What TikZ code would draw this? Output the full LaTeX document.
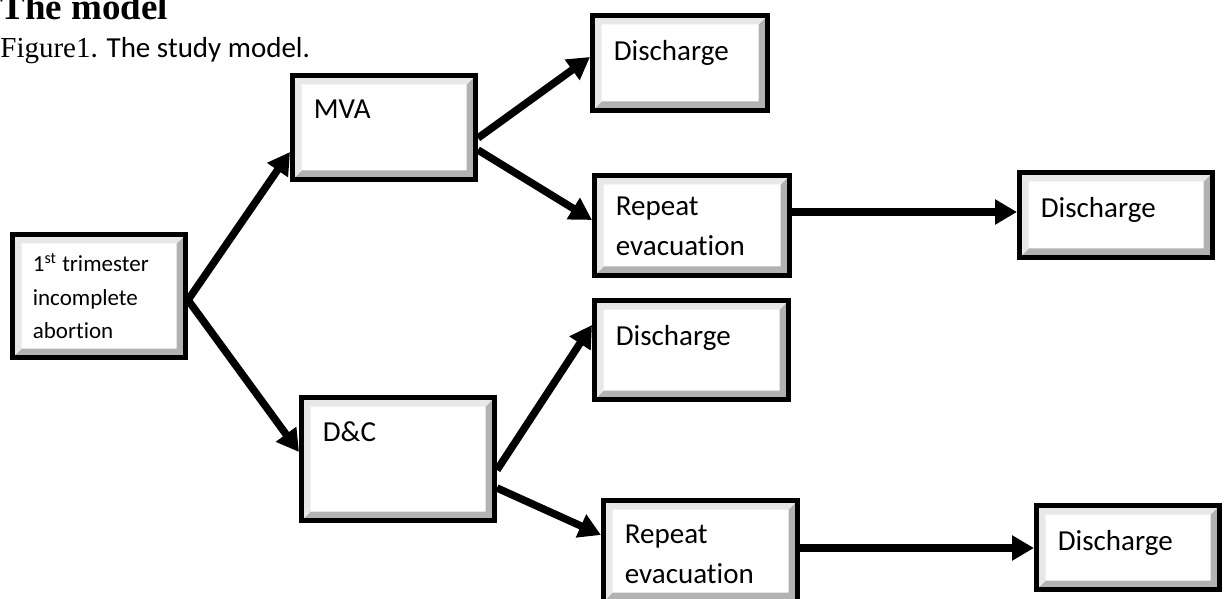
\documentclass[tikz,border=0pt]{standalone}
\usepackage{fontspec}
\setmainfont{Carlito}[Ligatures=NoCommon]
\newfontfamily\seriffont{Liberation Serif}
\usetikzlibrary{arrows.meta}
\usetikzlibrary{positioning}
\tikzset{
  bevelbox/.style={
    draw=black, line width=2.5pt, fill=white, inner sep=0pt,
    path picture={
      \fill[gray!60] (path picture bounding box.south west) -- (path picture bounding box.south east)
        -- (path picture bounding box.north east) -- ([shift={(-4.5pt,-4.5pt)}]path picture bounding box.north east)
        -- ([shift={(-4.5pt,4.5pt)}]path picture bounding box.south east) -- ([shift={(4.5pt,4.5pt)}]path picture bounding box.south west) -- cycle;
      \fill[gray!18] (path picture bounding box.south west) -- (path picture bounding box.north west)
        -- (path picture bounding box.north east) -- ([shift={(-4.5pt,-4.5pt)}]path picture bounding box.north east)
        -- ([shift={(4.5pt,-4.5pt)}]path picture bounding box.north west) -- ([shift={(4.5pt,4.5pt)}]path picture bounding box.south west) -- cycle;
    },
  },
  boxtext/.style={anchor=north west, inner sep=0pt, align=left, font=\fontsize{14.5}{20}\selectfont},
  flow/.style={line width=3.75pt, -{Triangle[length=11pt,width=12pt]}},
}

\begin{document}
\begin{tikzpicture}[x=0.5pt,y=-0.5pt]
        \useasboundingbox (0,0) rectangle (1228,599);
        %Titles
        \node [anchor=base west, inner sep=0pt, font=\seriffont\bfseries\fontsize{18.5}{22}\selectfont] (title) at (0,20) {The model};
        \node [anchor=base west, inner sep=0pt, font=\fontsize{14.5}{17}\selectfont] (caption) at (0,58) {{\seriffont Figure1}. The study model.};
        %Boxes
        \node [bevelbox, minimum width=86.5pt, minimum height=61.5pt] (start) at (99,296) {};
        \node [bevelbox, minimum width=91.5pt, minimum height=52pt] (mva) at (384,127.5) {};
        \node [bevelbox, minimum width=96.5pt, minimum height=61.5pt] (dnc) at (398,459) {};
        \node [bevelbox, minimum width=87.5pt, minimum height=47.5pt] (dis1) at (680,63) {};
        \node [bevelbox, minimum width=97.5pt, minimum height=50pt] (rep1) at (692,225.5) {};
        \node [bevelbox, minimum width=97pt, minimum height=49.5pt] (dis3) at (691.5,350) {};
        \node [bevelbox, minimum width=97pt, minimum height=50.5pt] (rep2) at (700.5,551) {};
        \node [bevelbox, minimum width=96.5pt, minimum height=42.5pt] (dis2) at (1116,215) {};
        \node [bevelbox, minimum width=91.5pt, minimum height=42pt] (dis4) at (1128,547.5) {};
        %Box texts
        \node [boxtext, font=\fontsize{11.5}{16.75}\selectfont] (starttxt) at ([shift={(11.25pt,-10.25pt)}]start.north west) {1\textsuperscript{st} trimester\\incomplete\\abortion};
        \node [boxtext] (mvatxt) at ([shift={(11.75pt,-13.25pt)}]mva.north west) {MVA};
        \node [boxtext] (dnctxt) at ([shift={(11.75pt,-13.25pt)}]dnc.north west) {D\&C};
        \node [boxtext] (dis1txt) at ([shift={(11.75pt,-13.25pt)}]dis1.north west) {Discharge};
        \node [boxtext] (rep1txt) at ([shift={(11.75pt,-11.5pt)}]rep1.north west) {Repeat\\evacuation};
        \node [boxtext] (dis3txt) at ([shift={(11.75pt,-13.25pt)}]dis3.north west) {Discharge};
        \node [boxtext] (rep2txt) at ([shift={(11.75pt,-13.25pt)}]rep2.north west) {Repeat\\evacuation};
        \node [boxtext] (dis2txt) at ([shift={(11.75pt,-13.25pt)}]dis2.north west) {Discharge};
        \node [boxtext] (dis4txt) at ([shift={(11.75pt,-13.25pt)}]dis4.north west) {Discharge};
        %Arrows
        \draw [flow] ([yshift=-2pt]start.east) -- ([yshift=-12.25pt]mva.west);
        \draw [flow] ([yshift=-2pt]start.east) -- ([yshift=3.5pt]dnc.west);
        \draw [flow] ([yshift=-5.25pt]mva.east) -- ([yshift=3pt]dis1.west);
        \draw [flow] ([yshift=-11.25pt]mva.east) -- ([yshift=2.75pt]rep1.west);
        \draw [flow] ([yshift=-5.5pt]dnc.east) -- ([yshift=12.5pt]dis3.west);
        \draw [flow] ([yshift=-14.5pt]dnc.east) -- ([yshift=8pt]rep2.west);
        \coordinate (rep1out) at ([yshift=6.75pt]rep1.east);
        \coordinate (rep2out) at ([yshift=1.5pt]rep2.east);
        \draw [flow] (rep1out) -- (rep1out -| dis2.west);
        \draw [flow] (rep2out) -- (rep2out -| dis4.west);
\end{tikzpicture}
\end{document}
